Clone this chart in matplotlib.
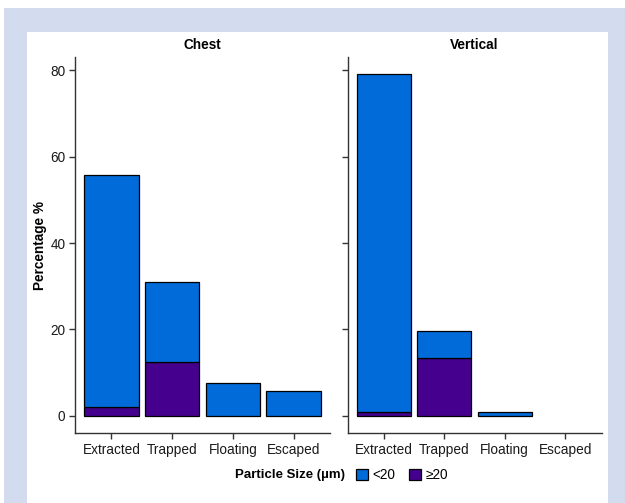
import numpy as np
import matplotlib.pyplot as plt
from matplotlib.patches import Rectangle, Patch

plt.rcParams['font.family'] = ['Liberation Sans', 'DejaVu Sans']

# particle fate by position, percent of particles
categories = ['Extracted', 'Trapped', 'Floating', 'Escaped']
panels = ['Chest', 'Vertical']
chest_small = [53.7, 18.6, 7.7, 5.8]   # <20 um
chest_large = [2.1, 12.4, 0.0, 0.0]    # >=20 um
vertical_small = [78.2, 6.3, 0.9, 0.0]
vertical_large = [0.9, 13.4, 0.0, 0.0]

size_labels = ['<20', '≥20']
colors = {'<20': '#006BD9', '≥20': '#45008E'}

fig = plt.figure(figsize=(6.25, 5.03), dpi=100)

# lavender frame around white panel
fig.patches.append(Rectangle((4 / 625, 0), 621 / 625, 1 - 8 / 503,
                             transform=fig.transFigure, facecolor='#D3DCEE',
                             edgecolor='none', zorder=-2))
fig.patches.append(Rectangle((27 / 625, 0), 581 / 625, 1 - 32 / 503,
                             transform=fig.transFigure, facecolor='white',
                             edgecolor='none', zorder=-1))

bottom = 1 - 433 / 503
height = (433 - 57) / 503
ax1 = fig.add_axes([75 / 625, bottom, 255 / 625, height])
ax2 = fig.add_axes([347.5 / 625, bottom, 254 / 625, height])

data = {'Chest': (chest_small, chest_large),
        'Vertical': (vertical_small, vertical_large)}
ymax = max(max(np.add(s, l)) for s, l in data.values())

x = np.arange(1, len(categories) + 1)
for ax, name in zip([ax1, ax2], panels):
    small, large = np.array(data[name][0]), np.array(data[name][1])
    m = large > 0
    ax.bar(x[m], large[m], width=0.9, color=colors['≥20'],
           edgecolor='black', linewidth=0.9)
    m = small > 0
    ax.bar(x[m], small[m], bottom=large[m], width=0.9, color=colors['<20'],
           edgecolor='black', linewidth=0.9)
    ax.set_xlim(0.4, 4.6)
    ax.set_ylim(-0.05 * ymax, 1.05 * ymax)
    ax.set_xticks(x)
    ax.set_xticklabels(categories)
    ax.set_yticks([0, 20, 40, 60, 80])
    ax.set_facecolor('none')
    for s in ['top', 'right']:
        ax.spines[s].set_visible(False)
    for s in ['left', 'bottom']:
        ax.spines[s].set_color('#333333')
        ax.spines[s].set_linewidth(1.0)
    ax.tick_params(length=4, width=1.0, color='#333333', labelsize=9.8,
                   labelcolor='#1a1a1a', pad=3)
    ax.set_title(name, fontsize=9.8, fontweight='bold', pad=6)

ax2.set_yticklabels([])
ax1.set_ylabel('Percentage %', fontsize=9.8, fontweight='bold', labelpad=2)

# legend along the bottom
fig.text(290 / 625, 1 - 475 / 503, 'Particle Size (µm)', fontsize=9.5,
         fontweight='bold', ha='center', va='center')
handles = [Patch(facecolor=colors[k], edgecolor='black', linewidth=0.9)
           for k in size_labels]
fig.legend(handles, size_labels, ncol=2, frameon=False, fontsize=9.8,
           loc='center left', bbox_to_anchor=(356 / 625, 1 - 475 / 503),
           handlelength=0.9, handleheight=0.9, handletextpad=0.3,
           columnspacing=1.0, borderaxespad=0, borderpad=0)

fig.savefig('out.png', dpi=100)
